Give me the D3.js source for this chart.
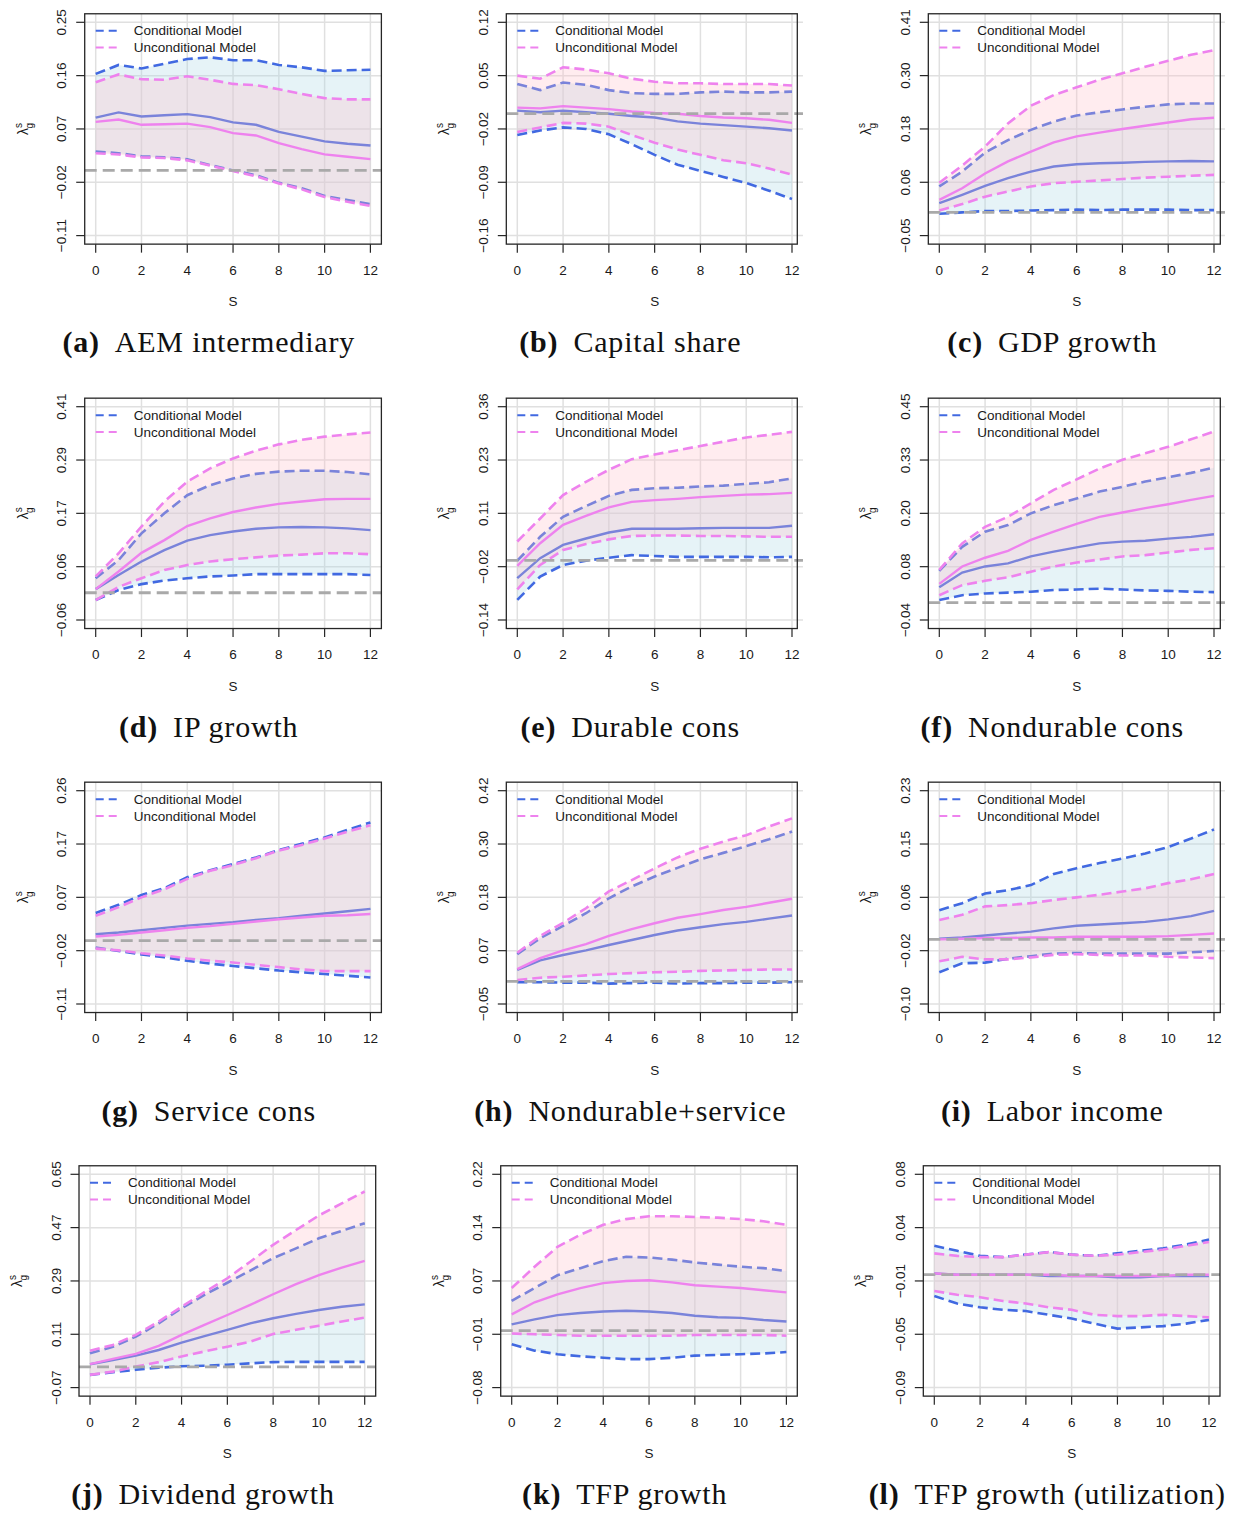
<!DOCTYPE html>
<html>
<head>
<meta charset="utf-8">
<script src="https://cdn.jsdelivr.net/npm/d3@7"></script>
<style>
  body { margin: 0; background: #fff; }
  text { font-family: "Liberation Sans", Arial, sans-serif; }
</style>
</head>
<body>
<script>
// horizon s and axis ticks
var sSteps = [0, 1, 2, 3, 4, 5, 6, 7, 8, 9, 10, 11, 12];
var sTicks = [0, 2, 4, 6, 8, 10, 12];

// (a) AEM intermediary
var aemTicks   = ['-0.11', '-0.02', '0.07', '0.16', '0.25'];
var aemCondHi  = [0.163, 0.178, 0.172, 0.180, 0.188, 0.191, 0.186, 0.186, 0.178, 0.174, 0.168, 0.169, 0.170];
var aemCondMed = [0.089, 0.098, 0.091, 0.093, 0.095, 0.090, 0.081, 0.077, 0.065, 0.057, 0.049, 0.045, 0.042];
var aemCondLo  = [0.032, 0.029, 0.024, 0.022, 0.019, 0.009, 0.000, -0.008, -0.021, -0.030, -0.043, -0.050, -0.057];
var aemUncHi   = [0.149, 0.162, 0.154, 0.153, 0.159, 0.153, 0.146, 0.144, 0.137, 0.129, 0.122, 0.120, 0.120];
var aemUncMed  = [0.082, 0.086, 0.077, 0.078, 0.079, 0.073, 0.063, 0.059, 0.046, 0.036, 0.027, 0.023, 0.019];
var aemUncLo   = [0.029, 0.027, 0.022, 0.021, 0.017, 0.008, -0.001, -0.010, -0.022, -0.032, -0.045, -0.053, -0.060];

// (b) Capital share
var capTicks   = ['-0.16', '-0.09', '-0.02', '0.05', '0.12'];
var capCondHi  = [0.039, 0.031, 0.041, 0.038, 0.031, 0.027, 0.026, 0.026, 0.028, 0.029, 0.028, 0.028, 0.029];
var capCondMed = [0.004, 0.002, 0.004, 0.002, 0.000, -0.003, -0.005, -0.010, -0.013, -0.015, -0.017, -0.019, -0.022];
var capCondLo  = [-0.028, -0.022, -0.018, -0.020, -0.027, -0.040, -0.054, -0.067, -0.075, -0.083, -0.091, -0.101, -0.112];
var capUncHi   = [0.050, 0.046, 0.061, 0.058, 0.053, 0.046, 0.042, 0.040, 0.040, 0.039, 0.039, 0.039, 0.037];
var capUncMed  = [0.008, 0.007, 0.010, 0.008, 0.006, 0.003, 0.001, 0.000, -0.003, -0.005, -0.006, -0.008, -0.012];
var capUncLo   = [-0.024, -0.018, -0.012, -0.013, -0.017, -0.028, -0.038, -0.047, -0.054, -0.061, -0.065, -0.072, -0.080];

// (c) GDP growth
var gdpTicks   = ['-0.05', '0.06', '0.18', '0.30', '0.41'];
var gdpCondHi  = [0.056, 0.088, 0.129, 0.156, 0.178, 0.196, 0.209, 0.216, 0.222, 0.228, 0.233, 0.235, 0.235];
var gdpCondMed = [0.020, 0.038, 0.057, 0.074, 0.088, 0.099, 0.104, 0.106, 0.107, 0.109, 0.110, 0.111, 0.110];
var gdpCondLo  = [-0.003, 0.000, 0.003, 0.003, 0.004, 0.005, 0.006, 0.005, 0.006, 0.006, 0.006, 0.005, 0.005];
var gdpUncHi   = [0.064, 0.101, 0.142, 0.192, 0.230, 0.253, 0.270, 0.286, 0.300, 0.314, 0.327, 0.340, 0.350];
var gdpUncMed  = [0.027, 0.052, 0.084, 0.110, 0.131, 0.151, 0.164, 0.172, 0.180, 0.187, 0.194, 0.201, 0.204];
var gdpUncLo   = [0.004, 0.018, 0.034, 0.045, 0.056, 0.063, 0.066, 0.069, 0.072, 0.075, 0.077, 0.079, 0.081];

// (d) IP growth
var ipTicks   = ['-0.06', '0.06', '0.17', '0.29', '0.41'];
var ipCondHi  = [0.032, 0.072, 0.131, 0.175, 0.215, 0.237, 0.252, 0.262, 0.267, 0.269, 0.269, 0.266, 0.261];
var ipCondMed = [0.008, 0.039, 0.069, 0.094, 0.115, 0.127, 0.135, 0.141, 0.144, 0.145, 0.144, 0.142, 0.138];
var ipCondLo  = [-0.016, 0.006, 0.019, 0.027, 0.032, 0.036, 0.038, 0.041, 0.041, 0.041, 0.041, 0.041, 0.039];
var ipUncHi   = [0.036, 0.087, 0.146, 0.201, 0.245, 0.274, 0.296, 0.313, 0.327, 0.337, 0.344, 0.349, 0.353];
var ipUncMed  = [0.008, 0.047, 0.088, 0.116, 0.147, 0.164, 0.178, 0.188, 0.196, 0.201, 0.206, 0.207, 0.207];
var ipUncLo   = [-0.016, 0.013, 0.032, 0.050, 0.061, 0.069, 0.074, 0.078, 0.082, 0.084, 0.087, 0.087, 0.085];

// (e) Durable cons
var durTicks   = ['-0.14', '-0.02', '0.11', '0.23', '0.36'];
var durCondHi  = [-0.001, 0.055, 0.102, 0.127, 0.151, 0.165, 0.169, 0.170, 0.173, 0.175, 0.179, 0.183, 0.192];
var durCondMed = [-0.042, 0.005, 0.036, 0.051, 0.065, 0.074, 0.074, 0.074, 0.075, 0.076, 0.076, 0.076, 0.081];
var durCondLo  = [-0.093, -0.038, -0.011, -0.001, 0.006, 0.012, 0.010, 0.008, 0.008, 0.008, 0.008, 0.007, 0.008];
var durUncHi   = [0.044, 0.098, 0.153, 0.184, 0.212, 0.237, 0.248, 0.258, 0.268, 0.278, 0.288, 0.294, 0.301];
var durUncMed  = [-0.013, 0.040, 0.083, 0.104, 0.124, 0.137, 0.141, 0.144, 0.148, 0.151, 0.154, 0.155, 0.158];
var durUncLo   = [-0.068, -0.011, 0.024, 0.038, 0.049, 0.057, 0.058, 0.058, 0.057, 0.057, 0.056, 0.055, 0.055];

// (f) Nondurable cons
var ndTicks   = ['-0.04', '0.08', '0.20', '0.33', '0.45'];
var ndCondHi  = [0.073, 0.128, 0.163, 0.178, 0.205, 0.224, 0.239, 0.255, 0.266, 0.278, 0.288, 0.298, 0.310];
var ndCondMed = [0.035, 0.069, 0.083, 0.090, 0.106, 0.117, 0.127, 0.136, 0.140, 0.142, 0.147, 0.151, 0.157];
var ndCondLo  = [0.006, 0.017, 0.021, 0.023, 0.025, 0.029, 0.030, 0.032, 0.030, 0.028, 0.027, 0.025, 0.024];
var ndUncHi   = [0.075, 0.136, 0.174, 0.197, 0.228, 0.259, 0.283, 0.308, 0.328, 0.343, 0.358, 0.375, 0.393];
var ndUncMed  = [0.043, 0.083, 0.103, 0.119, 0.144, 0.163, 0.181, 0.197, 0.207, 0.217, 0.226, 0.236, 0.245];
var ndUncLo   = [0.017, 0.040, 0.050, 0.058, 0.071, 0.083, 0.092, 0.099, 0.106, 0.109, 0.115, 0.121, 0.125];

// (g) Service cons
var svTicks   = ['-0.11', '-0.02', '0.07', '0.17', '0.26'];
var svCondHi  = [0.048, 0.062, 0.079, 0.091, 0.110, 0.122, 0.133, 0.144, 0.157, 0.168, 0.179, 0.192, 0.205];
var svCondMed = [0.011, 0.014, 0.018, 0.022, 0.026, 0.029, 0.032, 0.036, 0.039, 0.043, 0.047, 0.051, 0.055];
var svCondLo  = [-0.012, -0.018, -0.024, -0.029, -0.035, -0.040, -0.044, -0.048, -0.052, -0.055, -0.058, -0.061, -0.064];
var svUncHi   = [0.043, 0.058, 0.075, 0.089, 0.107, 0.121, 0.131, 0.143, 0.156, 0.166, 0.177, 0.189, 0.200];
var svUncMed  = [0.007, 0.010, 0.014, 0.018, 0.022, 0.025, 0.029, 0.033, 0.037, 0.040, 0.043, 0.044, 0.046];
var svUncLo   = [-0.014, -0.017, -0.022, -0.026, -0.031, -0.035, -0.038, -0.042, -0.046, -0.050, -0.053, -0.053, -0.053];

// (h) Nondurable+service
var nsTicks   = ['-0.05', '0.07', '0.18', '0.30', '0.42'];
var nsCondHi  = [0.060, 0.095, 0.122, 0.150, 0.183, 0.209, 0.231, 0.250, 0.269, 0.283, 0.298, 0.313, 0.330];
var nsCondMed = [0.025, 0.046, 0.058, 0.068, 0.080, 0.091, 0.102, 0.112, 0.119, 0.126, 0.131, 0.138, 0.145];
var nsCondLo  = [-0.002, -0.002, -0.003, -0.003, -0.005, -0.004, -0.003, -0.005, -0.004, -0.004, -0.003, -0.003, -0.002];
var nsUncHi   = [0.063, 0.100, 0.129, 0.161, 0.198, 0.223, 0.249, 0.273, 0.292, 0.308, 0.322, 0.341, 0.359];
var nsUncMed  = [0.027, 0.051, 0.068, 0.082, 0.100, 0.115, 0.128, 0.140, 0.148, 0.157, 0.164, 0.173, 0.182];
var nsUncLo   = [0.003, 0.008, 0.010, 0.013, 0.016, 0.018, 0.020, 0.021, 0.023, 0.024, 0.025, 0.026, 0.026];

// (i) Labor income
var labTicks   = ['-0.10', '-0.02', '0.06', '0.15', '0.23'];
var labCondHi  = [0.045, 0.056, 0.071, 0.076, 0.084, 0.101, 0.110, 0.118, 0.125, 0.133, 0.143, 0.156, 0.170];
var labCondMed = [0.001, 0.003, 0.006, 0.009, 0.012, 0.017, 0.021, 0.023, 0.025, 0.027, 0.031, 0.036, 0.044];
var labCondLo  = [-0.051, -0.037, -0.036, -0.030, -0.026, -0.022, -0.021, -0.022, -0.022, -0.022, -0.022, -0.020, -0.018];
var labUncHi   = [0.030, 0.038, 0.051, 0.053, 0.056, 0.061, 0.065, 0.069, 0.074, 0.079, 0.087, 0.093, 0.101];
var labUncMed  = [0.000, 0.001, 0.002, 0.002, 0.003, 0.003, 0.004, 0.004, 0.004, 0.004, 0.005, 0.007, 0.009];
var labUncLo   = [-0.034, -0.027, -0.031, -0.031, -0.028, -0.024, -0.023, -0.024, -0.025, -0.025, -0.027, -0.028, -0.029];

// (j) Dividend growth
var divTicks   = ['-0.07', '0.11', '0.29', '0.47', '0.65'];
var divCondHi  = [0.046, 0.068, 0.102, 0.147, 0.198, 0.243, 0.284, 0.325, 0.367, 0.400, 0.434, 0.459, 0.485];
var divCondMed = [0.009, 0.023, 0.038, 0.057, 0.082, 0.104, 0.125, 0.147, 0.164, 0.179, 0.192, 0.203, 0.211];
var divCondLo  = [-0.027, -0.018, -0.010, -0.003, 0.002, 0.004, 0.007, 0.012, 0.016, 0.017, 0.017, 0.017, 0.017];
var divUncHi   = [0.054, 0.074, 0.108, 0.153, 0.203, 0.252, 0.299, 0.355, 0.412, 0.462, 0.511, 0.552, 0.592];
var divUncMed  = [0.009, 0.027, 0.044, 0.071, 0.108, 0.142, 0.175, 0.209, 0.245, 0.279, 0.310, 0.335, 0.358];
var divUncLo   = [-0.027, -0.016, 0.001, 0.016, 0.035, 0.052, 0.068, 0.085, 0.111, 0.125, 0.139, 0.153, 0.166];

// (k) TFP growth
var tfpTicks   = ['-0.08', '-0.01', '0.07', '0.14', '0.22'];
var tfpCondHi  = [0.042, 0.060, 0.078, 0.088, 0.098, 0.104, 0.103, 0.100, 0.096, 0.093, 0.090, 0.088, 0.084];
var tfpCondMed = [0.009, 0.016, 0.022, 0.025, 0.027, 0.028, 0.027, 0.025, 0.021, 0.019, 0.018, 0.015, 0.013];
var tfpCondLo  = [-0.019, -0.028, -0.033, -0.036, -0.038, -0.040, -0.040, -0.038, -0.035, -0.034, -0.033, -0.032, -0.030];
var tfpUncHi   = [0.060, 0.090, 0.118, 0.135, 0.149, 0.157, 0.161, 0.161, 0.160, 0.159, 0.157, 0.154, 0.149];
var tfpUncMed  = [0.023, 0.040, 0.051, 0.060, 0.067, 0.070, 0.071, 0.068, 0.064, 0.062, 0.060, 0.057, 0.054];
var tfpUncLo   = [-0.004, -0.005, -0.006, -0.007, -0.007, -0.007, -0.007, -0.007, -0.006, -0.006, -0.006, -0.006, -0.007];

// (l) TFP growth (utilization)
var tfuTicks   = ['-0.09', '-0.05', '-0.01', '0.04', '0.08'];
var tfuCondHi  = [0.023, 0.019, 0.015, 0.014, 0.016, 0.018, 0.016, 0.015, 0.017, 0.019, 0.021, 0.024, 0.028];
var tfuCondMed = [0.001, 0.000, 0.000, 0.000, 0.000, -0.001, -0.001, -0.001, -0.002, -0.002, -0.001, -0.001, -0.001];
var tfuCondLo  = [-0.017, -0.023, -0.026, -0.028, -0.029, -0.032, -0.035, -0.039, -0.043, -0.042, -0.041, -0.039, -0.036];
var tfuUncHi   = [0.017, 0.015, 0.014, 0.014, 0.016, 0.018, 0.016, 0.015, 0.016, 0.018, 0.020, 0.023, 0.026];
var tfuUncMed  = [0.001, 0.000, 0.000, 0.000, 0.000, 0.000, -0.001, -0.001, -0.001, -0.001, -0.001, 0.000, 0.000];
var tfuUncLo   = [-0.013, -0.016, -0.018, -0.021, -0.023, -0.026, -0.028, -0.032, -0.033, -0.033, -0.032, -0.033, -0.034];

var legendLabels = ['Conditional Model', 'Unconditional Model'];

var panels = [
  {tag: '(a)', title: 'AEM intermediary', ticks: aemTicks, cond: [aemCondLo, aemCondMed, aemCondHi], unc: [aemUncLo, aemUncMed, aemUncHi]},
  {tag: '(b)', title: 'Capital share', ticks: capTicks, cond: [capCondLo, capCondMed, capCondHi], unc: [capUncLo, capUncMed, capUncHi]},
  {tag: '(c)', title: 'GDP growth', ticks: gdpTicks, cond: [gdpCondLo, gdpCondMed, gdpCondHi], unc: [gdpUncLo, gdpUncMed, gdpUncHi]},
  {tag: '(d)', title: 'IP growth', ticks: ipTicks, cond: [ipCondLo, ipCondMed, ipCondHi], unc: [ipUncLo, ipUncMed, ipUncHi]},
  {tag: '(e)', title: 'Durable cons', ticks: durTicks, cond: [durCondLo, durCondMed, durCondHi], unc: [durUncLo, durUncMed, durUncHi]},
  {tag: '(f)', title: 'Nondurable cons', ticks: ndTicks, cond: [ndCondLo, ndCondMed, ndCondHi], unc: [ndUncLo, ndUncMed, ndUncHi]},
  {tag: '(g)', title: 'Service cons', ticks: svTicks, cond: [svCondLo, svCondMed, svCondHi], unc: [svUncLo, svUncMed, svUncHi]},
  {tag: '(h)', title: 'Nondurable+service', ticks: nsTicks, cond: [nsCondLo, nsCondMed, nsCondHi], unc: [nsUncLo, nsUncMed, nsUncHi]},
  {tag: '(i)', title: 'Labor income', ticks: labTicks, cond: [labCondLo, labCondMed, labCondHi], unc: [labUncLo, labUncMed, labUncHi]},
  {tag: '(j)', title: 'Dividend growth', ticks: divTicks, cond: [divCondLo, divCondMed, divCondHi], unc: [divUncLo, divUncMed, divUncHi]},
  {tag: '(k)', title: 'TFP growth', ticks: tfpTicks, cond: [tfpCondLo, tfpCondMed, tfpCondHi], unc: [tfpUncLo, tfpUncMed, tfpUncHi]},
  {tag: '(l)', title: 'TFP growth (utilization)', ticks: tfuTicks, cond: [tfuCondLo, tfuCondMed, tfuCondHi], unc: [tfuUncLo, tfuUncMed, tfuUncHi]}
];

// layout: pixel of s=0 per row/col and top tick per row
var rowTop = [22.3, 406.7, 790.7, 1174.3];
var colS0 = [[95.7, 517.3, 939.3], [95.7, 517.3, 939.3], [95.7, 517.3, 939.3], [90, 511.7, 934.3]];
var colClip = [Infinity, 797.3, 1220.3];
var xSpan = 274.7, ySpan = 213.3;

var blue = '#4169e1', violet = '#ee82ee';

var svg = d3.select('body').append('svg')
    .attr('width', 1233)
    .attr('height', 1515);

function fmt(t) { return t.replace('-', '\u2212'); }

panels.forEach(function(p, i) {
    var r = Math.floor(i / 3), c = i % 3;
    var s0 = colS0[r][c], top = rowTop[r];
    var yMin = +p.ticks[0], yMax = +p.ticks[4];

    var x = d3.scaleLinear().domain([0, 12]).range([s0, s0 + xSpan]);
    var y = d3.scaleLinear().domain([yMin, yMax]).range([top + ySpan, top]);
    var yTickVals = p.ticks.map(function(t, k) { return yMin + k * (yMax - yMin) / 4; });

    var rx0 = x(-0.48), rx1 = x(12.48);
    var ry0 = top - 0.04 * ySpan, ry1 = top + ySpan + 0.04 * ySpan;
    var bx1 = Math.min(rx1, colClip[c]);

    var g = svg.append('g');
    var clipId = 'clip' + i;
    g.append('clipPath').attr('id', clipId).append('rect')
        .attr('x', rx0).attr('y', ry0).attr('width', rx1 - rx0).attr('height', ry1 - ry0);
    var plot = g.append('g').attr('clip-path', 'url(#' + clipId + ')');

    // grid
    plot.selectAll('.gx').data(sTicks).enter().append('line')
        .attr('x1', function(d) { return x(d); }).attr('x2', function(d) { return x(d); })
        .attr('y1', ry0).attr('y2', ry1)
        .attr('stroke', '#e0e0e0').attr('stroke-width', 1.5);
    plot.selectAll('.gy').data(yTickVals).enter().append('line')
        .attr('y1', function(d) { return y(d); }).attr('y2', function(d) { return y(d); })
        .attr('x1', rx0).attr('x2', rx1)
        .attr('stroke', '#e0e0e0').attr('stroke-width', 1.5);

    var area = function(lo, hi) {
        return d3.area().x(function(d, k) { return x(sSteps[k]); })
            .y0(function(d, k) { return y(lo[k]); })
            .y1(function(d, k) { return y(hi[k]); })(sSteps);
    };
    var line = function(v) {
        return d3.line().x(function(d, k) { return x(sSteps[k]); })
            .y(function(d, k) { return y(v[k]); })(sSteps);
    };

    // conditional band, then unconditional band on top
    [[p.cond, blue, 'lightblue'], [p.unc, violet, 'pink']].forEach(function(set) {
        var v = set[0];
        plot.append('path').attr('d', area(v[0], v[2]))
            .attr('fill', set[2]).attr('fill-opacity', 0.3);
        [v[0], v[2]].forEach(function(b) {
            plot.append('path').attr('d', line(b))
                .attr('fill', 'none').attr('stroke', set[1]).attr('stroke-width', 2.6)
                .attr('stroke-dasharray', '10,5');
        });
        plot.append('path').attr('d', line(v[1]))
            .attr('fill', 'none').attr('stroke', set[1]).attr('stroke-width', 2.4);
    });

    // zero line
    plot.append('line')
        .attr('x1', rx0).attr('x2', rx1).attr('y1', y(0)).attr('y2', y(0))
        .attr('stroke', '#a9a9a9').attr('stroke-width', 2.8).attr('stroke-dasharray', '12,6');

    // box
    g.append('rect').attr('x', rx0).attr('y', ry0)
        .attr('width', bx1 - rx0).attr('height', ry1 - ry0)
        .attr('fill', 'none').attr('stroke', '#262626').attr('stroke-width', 1.3);

    // x axis
    sTicks.forEach(function(t) {
        g.append('line').attr('x1', x(t)).attr('x2', x(t)).attr('y1', ry1).attr('y2', ry1 + 8.5)
            .attr('stroke', '#262626').attr('stroke-width', 1.2);
        g.append('text').attr('x', x(t)).attr('y', top + ySpan + 34.5).attr('dy', '0.35em')
            .attr('text-anchor', 'middle').attr('font-size', 13.5).attr('fill', '#1a1a1a').text(t);
    });
    g.append('text').attr('x', x(6)).attr('y', top + ySpan + 66).attr('dy', '0.35em')
        .attr('text-anchor', 'middle').attr('font-size', 13.5).attr('fill', '#1a1a1a').text('S');

    // y axis
    yTickVals.forEach(function(v, k) {
        g.append('line').attr('x1', rx0).attr('x2', rx0 - 8.5).attr('y1', y(v)).attr('y2', y(v))
            .attr('stroke', '#262626').attr('stroke-width', 1.2);
        g.append('text').attr('transform', 'translate(' + (rx0 - 23) + ',' + y(v) + ') rotate(-90)')
            .attr('dy', '0.35em').attr('text-anchor', 'middle').attr('font-size', 13.5)
            .attr('fill', '#1a1a1a').text(fmt(p.ticks[k]));
    });
    var yl = g.append('text')
        .attr('transform', 'translate(' + (s0 - 73) + ',' + (top + ySpan / 2) + ') rotate(-90)')
        .attr('dy', '0.35em').attr('text-anchor', 'middle').attr('font-size', 14).attr('fill', '#1a1a1a');
    yl.append('tspan').text('\u03bb');
    yl.append('tspan').attr('dy', -6).attr('font-size', 10).text('s');
    yl.append('tspan').attr('dx', -5.6).attr('dy', 11).attr('font-size', 10).text('g');

    // legend
    [blue, violet].forEach(function(col, k) {
        var ly = ry0 + 17 + k * 16.8;
        g.append('line').attr('x1', rx0 + 11).attr('x2', rx0 + 32).attr('y1', ly).attr('y2', ly)
            .attr('stroke', col).attr('stroke-width', 2).attr('stroke-dasharray', '8,5');
        g.append('text').attr('x', rx0 + 49).attr('y', ly).attr('dy', '0.35em')
            .attr('font-size', 13.5).attr('fill', '#1a1a1a').text(legendLabels[k]);
    });

    // caption
    var cap = svg.append('text').attr('x', s0 + 113).attr('y', top + 320).attr('dy', '0.33em')
        .attr('text-anchor', 'middle').attr('font-size', 30).attr('fill', '#111')
        .attr('letter-spacing', 0.8)
        .style('font-family', '"Liberation Serif", "Times New Roman", serif');
    cap.append('tspan').attr('font-weight', 'bold').text(p.tag);
    cap.append('tspan').attr('dx', 15).text(p.title);
});
</script>
</body>
</html>
